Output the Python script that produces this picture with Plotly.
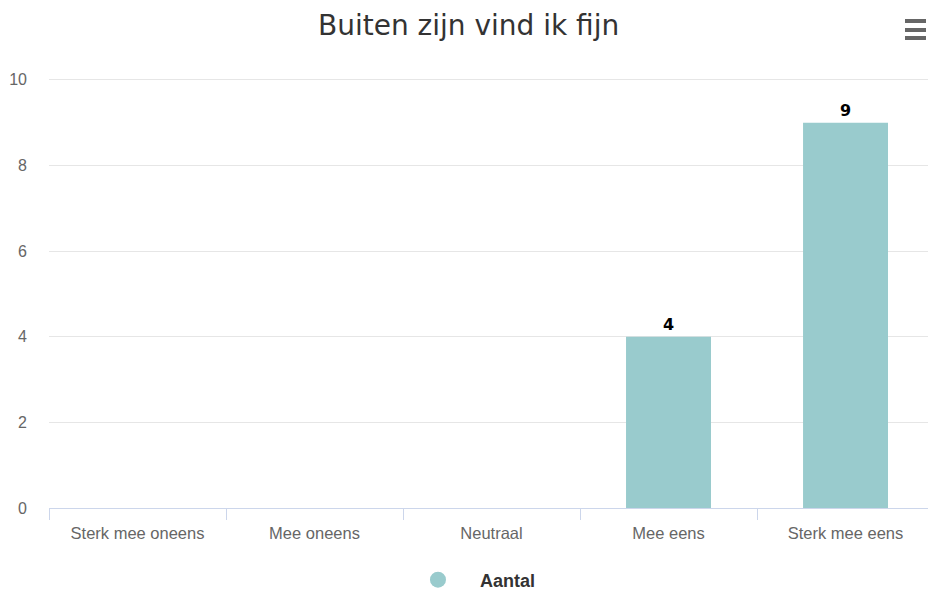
import plotly.graph_objects as go

# Gegevens
categories = ["Sterk mee oneens", "Mee oneens", "Neutraal", "Mee eens", "Sterk mee eens"]
aantal = [0, 0, 0, 4, 9]
y_ticks = [0, 2, 4, 6, 8, 10]
series_name = "Aantal"
title_text = "Buiten zijn vind ik fijn"

bar_color = "#99cbcd"

fig = go.Figure()
fig.add_trace(go.Bar(
    x=categories,
    y=aantal,
    marker=dict(color=bar_color, line=dict(width=0)),
    width=0.48,
    text=[str(v) if v else "" for v in aantal],
    textposition="outside",
    textfont=dict(family="DejaVu Sans", size=16, color="#000000", weight="bold"),
    cliponaxis=False,
    showlegend=False,
    name=series_name,
))
# legenda-item met rond symbool
fig.add_trace(go.Scatter(
    x=[None], y=[None],
    mode="markers",
    marker=dict(symbol="circle", size=18, color=bar_color),
    name=series_name,
    showlegend=True,
))

# hamburger-menu rechtsboven
for yy in [1.1043, 1.0839, 1.0658]:
    fig.add_shape(type="line", xref="paper", yref="paper",
                  x0=0.9738, x1=0.9977, y0=yy, y1=yy,
                  line=dict(color="#666666", width=4))

fig.update_layout(
    title=dict(text=title_text, x=0.505, xanchor="center", y=0.957, yanchor="middle",
               font=dict(family="DejaVu Sans", size=28, color="#333333")),
    width=928, height=593,
    margin=dict(l=49, r=0, t=67, b=85),
    paper_bgcolor="white",
    plot_bgcolor="white",
    xaxis=dict(
        type="category",
        range=[-0.5, 4.466],
        tickson="boundaries",
        ticks="outside",
        ticklen=11,
        tickcolor="#ccd6eb",
        showline=True,
        linecolor="#ccd6eb",
        linewidth=1,
        showgrid=False,
        ticklabelstandoff=10,
        tickfont=dict(family="Liberation Sans, Arial", size=16.5, color="#666666"),
    ),
    yaxis=dict(
        range=[0, 10.3],
        tickvals=y_ticks,
        showgrid=True,
        gridcolor="#e6e6e6",
        zeroline=False,
        showline=False,
        ticklabelstandoff=21,
        tickfont=dict(family="Liberation Sans, Arial", size=16, color="#666666"),
    ),
    legend=dict(
        orientation="h",
        x=0.4267, xanchor="left", xref="container",
        y=0.022, yanchor="middle", yref="container",
        font=dict(family="Liberation Sans, Arial", size=18, color="#333333", weight="bold"),
        itemsizing="trace",
        itemwidth=74,
    ),
    bargap=0.52,
)

fig.write_html("out.html", config={"displayModeBar": False},
               post_script="document.body.style.margin='0';")
